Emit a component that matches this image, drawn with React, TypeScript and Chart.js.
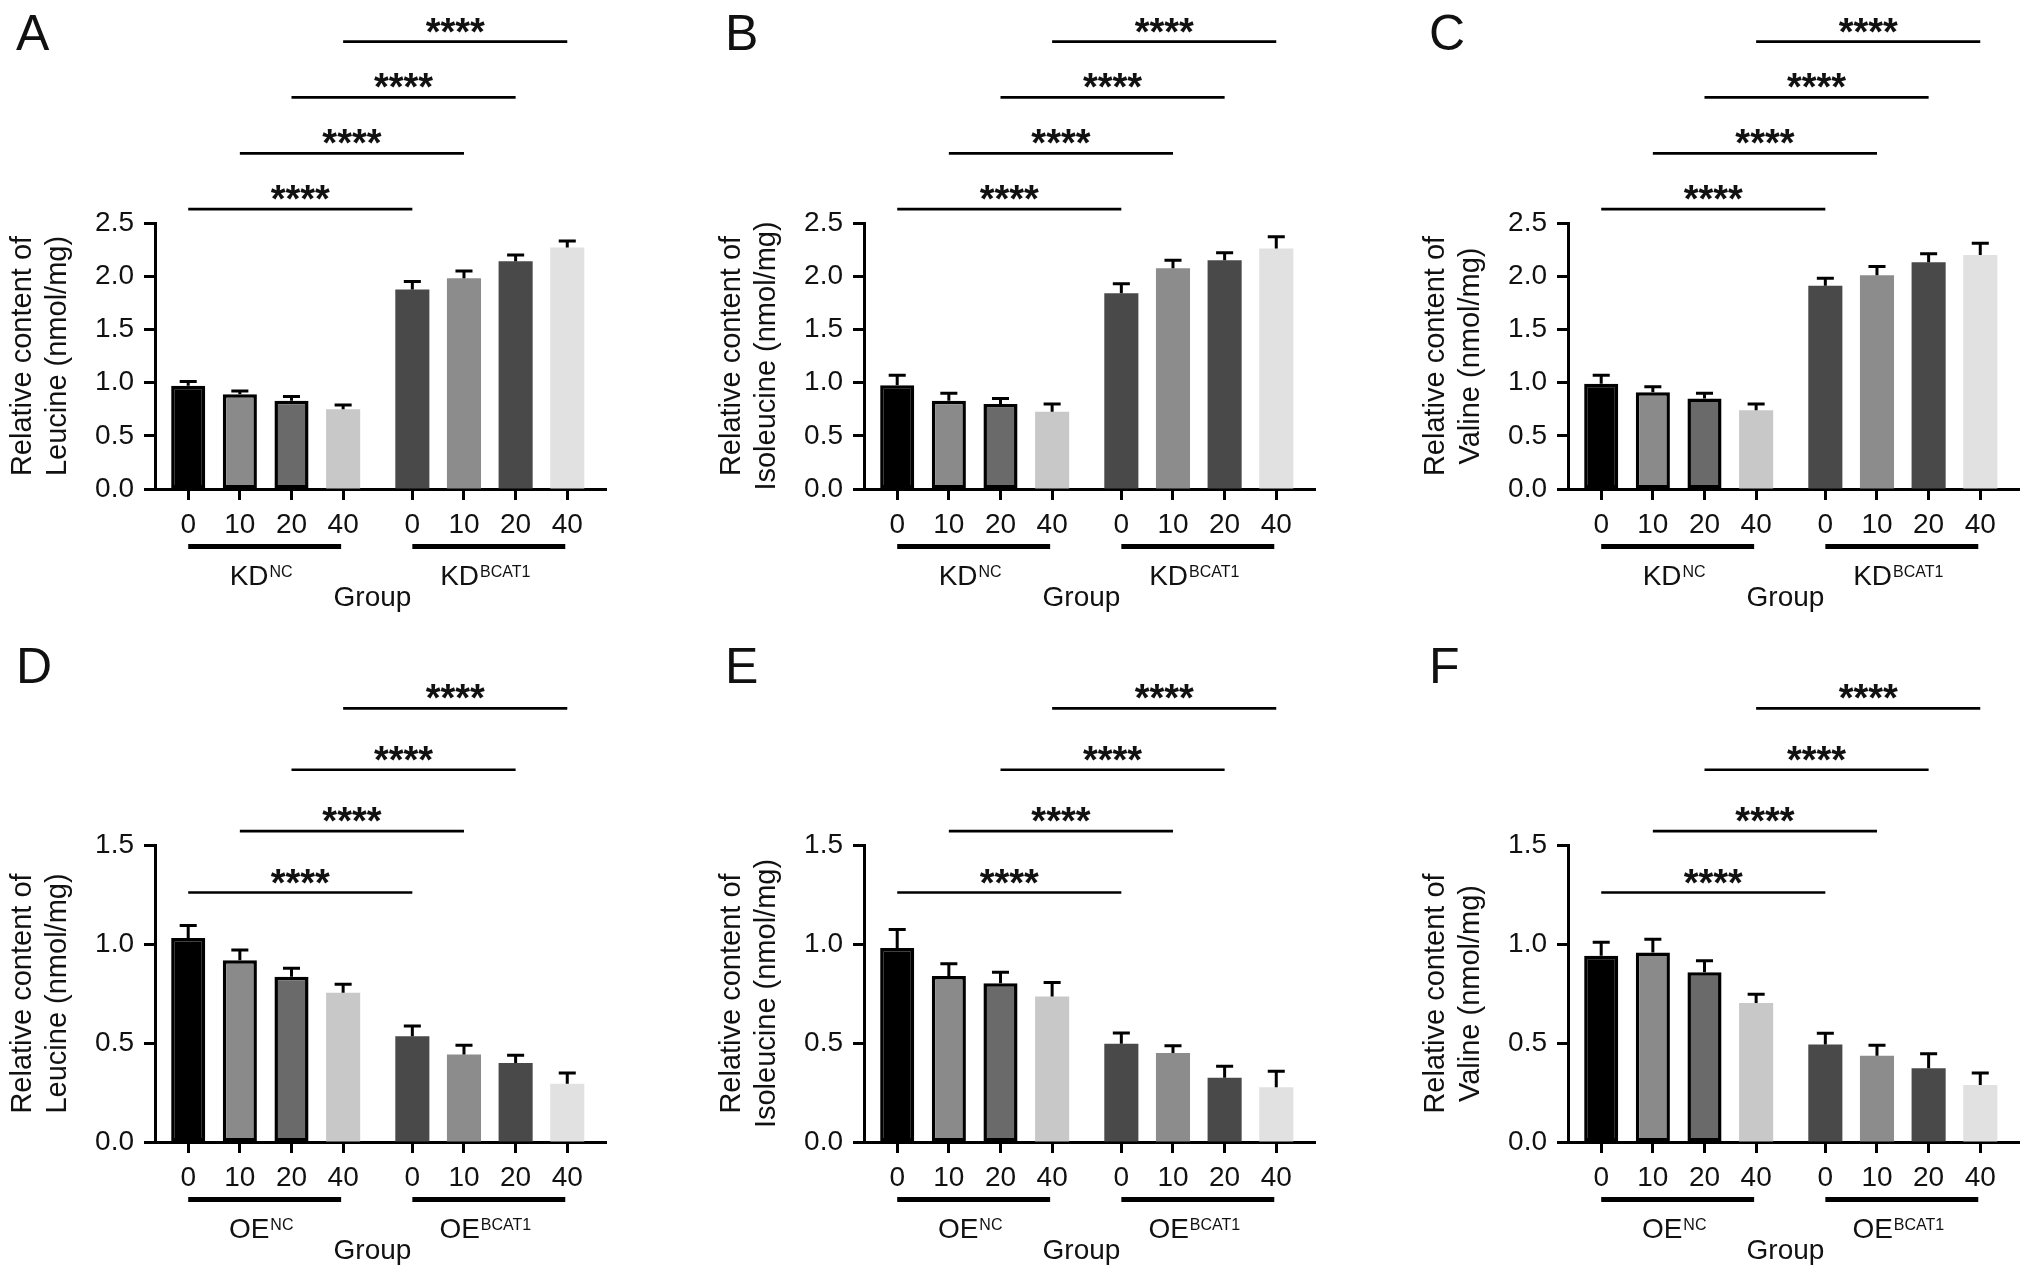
import { useEffect, useRef } from 'react';
import { Chart, registerables, type ChartConfiguration, type Plugin } from 'chart.js';

Chart.register(...registerables);

const FONT = '"Liberation Sans", Arial, Helvetica, sans-serif';
const INK = '#111111';

const doses = ['0', '10', '20', '40'];
const groupSuffixes = ['NC', 'BCAT1'];
const sigLabel = '****';

// KD panels (A-C), y max 2.5
const leucineKD = [0.97, 0.89, 0.83, 0.75, 1.875, 1.98, 2.14, 2.27];
const leucineKDErr = [0.04, 0.03, 0.04, 0.04, 0.075, 0.07, 0.06, 0.06];
const isoleucineKD = [0.975, 0.83, 0.8, 0.725, 1.84, 2.075, 2.15, 2.26];
const isoleucineKDErr = [0.095, 0.07, 0.05, 0.075, 0.09, 0.075, 0.07, 0.11];
const valineKD = [0.99, 0.91, 0.85, 0.74, 1.91, 2.01, 2.13, 2.2];
const valineKDErr = [0.08, 0.05, 0.05, 0.06, 0.07, 0.08, 0.08, 0.11];

// OE panels (D-F), y max 1.5
const leucineOE = [1.03, 0.918, 0.834, 0.754, 0.534, 0.442, 0.399, 0.294];
const leucineOEErr = [0.063, 0.052, 0.043, 0.043, 0.052, 0.047, 0.039, 0.055];
const isoleucineOE = [0.98, 0.839, 0.802, 0.735, 0.496, 0.449, 0.324, 0.276];
const isoleucineOEErr = [0.093, 0.061, 0.055, 0.071, 0.055, 0.037, 0.058, 0.081];
const valineOE = [0.941, 0.957, 0.857, 0.702, 0.493, 0.436, 0.372, 0.288];
const valineOEErr = [0.068, 0.067, 0.058, 0.044, 0.056, 0.053, 0.074, 0.06];

// heights of the comparison bars (in y units), 0 vs 0, 10 vs 10, ...
const kdSigLevels = [2.63, 3.155, 3.68, 4.205];
const oeSigLevels = [1.26, 1.57, 1.88, 2.19];

const barColors = ['#000000', '#8a8a8a', '#6a6a6a', '#c8c8c8', '#494949', '#8c8c8c', '#494949', '#e1e1e1'];
const barBorderWidths = [3.5, 3.5, 3.5, 0, 0, 0, 0, 0];

// bar centres on a linear axis: 4 per group, with a gap between the groups
const GROUP_GAP = 0.34;
const xPos = [0, 1, 2, 3, 4, 5, 6, 7].map((i) => (i % 4) + Math.floor(i / 4) * (4 + GROUP_GAP));

type PanelDef = {
  letter: string;
  prefix: string;
  amino: string;
  values: number[];
  errors: number[];
  yMax: number;
  sig: number[];
  row: number;
  col: number;
};

const panels: PanelDef[] = [
  { letter: 'A', prefix: 'KD', amino: 'Leucine', values: leucineKD, errors: leucineKDErr, yMax: 2.5, sig: kdSigLevels, row: 0, col: 0 },
  { letter: 'B', prefix: 'KD', amino: 'Isoleucine', values: isoleucineKD, errors: isoleucineKDErr, yMax: 2.5, sig: kdSigLevels, row: 0, col: 1 },
  { letter: 'C', prefix: 'KD', amino: 'Valine', values: valineKD, errors: valineKDErr, yMax: 2.5, sig: kdSigLevels, row: 0, col: 2 },
  { letter: 'D', prefix: 'OE', amino: 'Leucine', values: leucineOE, errors: leucineOEErr, yMax: 1.5, sig: oeSigLevels, row: 1, col: 0 },
  { letter: 'E', prefix: 'OE', amino: 'Isoleucine', values: isoleucineOE, errors: isoleucineOEErr, yMax: 1.5, sig: oeSigLevels, row: 1, col: 1 },
  { letter: 'F', prefix: 'OE', amino: 'Valine', values: valineOE, errors: valineOEErr, yMax: 1.5, sig: oeSigLevels, row: 1, col: 2 },
];

// layout (page pixels)
const colLeft = [0, 709, 1413];
const colWidth = [709, 704, 619];
const rowTop = [0, 640];
const CANVAS_H = 636;
const AXIS_X = 155;
const AXIS_END = 606;
const plotTop = [223, 205];
const plotBottom = [489, 502];
const X_AXIS_H = 64;
const letterBaseline = [50, 43];

function drawSuperLabel(ctx: CanvasRenderingContext2D, base: string, sup: string, cx: number, baseline: number) {
  ctx.font = `28px ${FONT}`;
  const w1 = ctx.measureText(base).width;
  ctx.font = `16px ${FONT}`;
  const w2 = ctx.measureText(sup).width;
  const x0 = cx - (w1 + w2) / 2;
  ctx.textAlign = 'left';
  ctx.textBaseline = 'alphabetic';
  ctx.font = `28px ${FONT}`;
  ctx.fillText(base, x0, baseline);
  ctx.font = `16px ${FONT}`;
  ctx.fillText(sup, x0 + w1 + 1, baseline - 8);
}

function decorPlugin(p: PanelDef): Plugin<'bar'> {
  return {
    id: 'panelDecor',
    afterDatasetsDraw(chart) {
      const { ctx } = chart;
      const x = chart.scales.x;
      const y = chart.scales.y;
      const bars = chart.getDatasetMeta(0).data as any[];
      ctx.save();
      ctx.strokeStyle = '#000';
      ctx.lineWidth = 3;
      p.values.forEach((v, i) => {
        const cx = x.getPixelForValue(xPos[i]);
        const yTop = y.getPixelForValue(v + p.errors[i]);
        const yBase = y.getPixelForValue(v);
        const half = (bars[i]?.width ?? 34) * 0.25;
        ctx.beginPath();
        ctx.moveTo(cx, yBase);
        ctx.lineTo(cx, yTop);
        ctx.moveTo(cx - half, yTop);
        ctx.lineTo(cx + half, yTop);
        ctx.stroke();
      });
      ctx.restore();
    },
    afterDraw(chart) {
      const { ctx, chartArea } = chart;
      const x = chart.scales.x;
      const y = chart.scales.y;
      ctx.save();
      ctx.fillStyle = INK;
      ctx.strokeStyle = '#000';

      // panel letter
      ctx.font = `50px ${FONT}`;
      ctx.textAlign = 'left';
      ctx.textBaseline = 'alphabetic';
      ctx.fillText(p.letter, chartArea.left - 139, letterBaseline[p.row]);

      // significance bars
      ctx.lineWidth = 2.7;
      p.sig.forEach((level, k) => {
        const x1 = x.getPixelForValue(xPos[k]);
        const x2 = x.getPixelForValue(xPos[k + 4]);
        const yy = y.getPixelForValue(level);
        ctx.beginPath();
        ctx.moveTo(x1, yy);
        ctx.lineTo(x2, yy);
        ctx.stroke();
        ctx.font = `bold 38px ${FONT}`;
        ctx.textAlign = 'center';
        ctx.fillText(sigLabel, (x1 + x2) / 2, yy + 3);
      });

      // group underlines and labels
      const b = chartArea.bottom;
      ctx.lineWidth = 5;
      groupSuffixes.forEach((suffix, g) => {
        const x1 = x.getPixelForValue(xPos[g * 4]);
        const x2 = x.getPixelForValue(xPos[g * 4 + 3]) - 2;
        ctx.beginPath();
        ctx.moveTo(x1, b + 57.5);
        ctx.lineTo(x2, b + 57.5);
        ctx.stroke();
        drawSuperLabel(ctx, p.prefix, suffix, (x1 + x2) / 2 - 4, b + 96);
      });

      // x title
      ctx.font = `28px ${FONT}`;
      ctx.textAlign = 'center';
      ctx.fillText('Group', (chartArea.left + chartArea.right) / 2 - 8, b + 117);
      ctx.restore();
    },
  };
}

function Panel({ p }: { p: PanelDef }) {
  const canvasRef = useRef<HTMLCanvasElement | null>(null);
  const width = colWidth[p.col];

  useEffect(() => {
    if (!canvasRef.current) return;
    const config: ChartConfiguration<'bar', { x: number; y: number }[]> = {
      type: 'bar',
      data: {
        datasets: [
          {
            data: p.values.map((v, i) => ({ x: xPos[i], y: v })),
            backgroundColor: barColors,
            borderColor: '#000',
            borderWidth: barBorderWidths,
            borderSkipped: false,
            categoryPercentage: 1,
            barPercentage: 0.66,
          },
        ],
      },
      options: {
        responsive: false,
        animation: false,
        devicePixelRatio: 1,
        layout: {
          padding: {
            left: 0,
            right: width - AXIS_END,
            top: plotTop[p.row],
            bottom: CANVAS_H - plotBottom[p.row] - X_AXIS_H,
          },
        },
        plugins: { legend: { display: false }, tooltip: { enabled: false } },
        scales: {
          x: {
            type: 'linear',
            offset: false,
            min: -0.643,
            max: 8.09,
            afterBuildTicks: (scale) => {
              scale.ticks = xPos.map((v) => ({ value: v }));
            },
            afterFit: (scale) => {
              scale.height = X_AXIS_H;
            },
            border: { display: true, color: '#000', width: 3 },
            grid: {
              display: true,
              offset: false,
              drawOnChartArea: false,
              drawTicks: true,
              tickLength: 11,
              tickWidth: 3,
              tickColor: '#000',
            },
            ticks: {
              autoSkip: false,
              maxRotation: 0,
              padding: 8,
              color: INK,
              font: { family: FONT, size: 28 },
              callback: (_v, i) => doses[i % 4],
            },
          },
          y: {
            min: 0,
            max: p.yMax,
            afterFit: (scale) => {
              scale.width = AXIS_X;
            },
            border: { display: true, color: '#000', width: 3 },
            grid: { display: true, drawOnChartArea: false, drawTicks: true, tickLength: 11, tickWidth: 3, tickColor: '#000' },
            ticks: {
              stepSize: 0.5,
              padding: 10,
              color: INK,
              font: { family: FONT, size: 28 },
              callback: (v) => Number(v).toFixed(1),
            },
            title: {
              display: true,
              text: ['Relative content of', `${p.amino} (nmol/mg)`],
              color: INK,
              font: { family: FONT, size: 29, lineHeight: 1.2 },
              padding: { top: 6, bottom: 0 },
            },
          },
        },
      },
      plugins: [decorPlugin(p)],
    };
    const chart = new Chart(canvasRef.current, config as any);
    return () => {
      chart.destroy();
    };
  }, [p, width]);

  return (
    <canvas
      ref={canvasRef}
      width={width}
      height={CANVAS_H}
      style={{ position: 'absolute', left: colLeft[p.col], top: rowTop[p.row], width, height: CANVAS_H }}
    />
  );
}

export default function App() {
  return (
    <div style={{ position: 'absolute', left: 0, top: 0, width: 2032, height: 1276, background: '#fff', overflow: 'hidden' }}>
      {panels.map((p) => (
        <Panel key={p.letter} p={p} />
      ))}
    </div>
  );
}
